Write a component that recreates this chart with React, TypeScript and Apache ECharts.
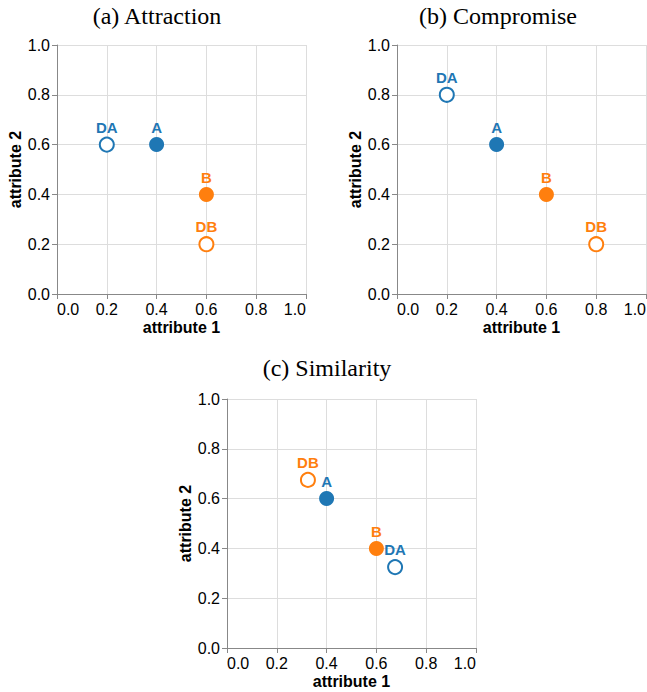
import React, { useEffect, useRef } from "react";
import * as echarts from "echarts";

// ---- data ----
const panelTitles = ["(a) Attraction", "(b) Compromise", "(c) Similarity"];
const pointNames = ["A", "B", "DA", "DB"];
const pointFilled = [true, true, false, false];
const pointGroup = ["a", "b", "a", "b"]; // a -> blue, b -> orange

const attractionX = [0.4, 0.6, 0.2, 0.6];
const attractionY = [0.6, 0.4, 0.6, 0.2];
const compromiseX = [0.4, 0.6, 0.2, 0.8];
const compromiseY = [0.6, 0.4, 0.8, 0.2];
const similarityX = [0.4, 0.6, 0.675, 0.325];
const similarityY = [0.6, 0.4, 0.325, 0.675];

const axisTicks = [0, 0.2, 0.4, 0.6, 0.8, 1.0];
const xAxisTitle = "attribute 1";
const yAxisTitle = "attribute 2";

const panelsX = [attractionX, compromiseX, similarityX];
const panelsY = [attractionY, compromiseY, similarityY];

// ---- layout / style ----
const BLUE = "#1f77b4";
const ORANGE = "#ff7f0e";
const SANS = "'Liberation Sans', Helvetica, Arial, sans-serif";
const SERIF = "'Liberation Serif', 'Times New Roman', serif";

const grids = [
  { left: 57, top: 45, width: 249, height: 249 },
  { left: 397, top: 45, width: 249, height: 249 },
  { left: 227, top: 399, width: 249, height: 249 },
];
const titlePos = [
  { x: 157, y: 4 },
  { x: 498, y: 4 },
  { x: 327, y: 356 },
];

export default function App() {
  const ref = useRef<HTMLDivElement>(null);

  useEffect(() => {
    if (!ref.current) return;
    const chart = echarts.init(ref.current, null, { renderer: "svg" });

    const axisCommon = {
      min: axisTicks[0],
      max: axisTicks[axisTicks.length - 1],
      interval: 0.2,
      axisLine: { show: true, lineStyle: { color: "#888", width: 1 } },
      axisTick: { show: true, length: 5, lineStyle: { color: "#888" } },
      splitLine: { show: true, lineStyle: { color: "#ddd", width: 1 } },
      nameLocation: "middle" as const,
      nameTextStyle: {
        fontFamily: SANS,
        fontSize: 16,
        fontWeight: "bold" as const,
        color: "#000",
      },
    };

    const labelCommon = {
      fontFamily: SANS,
      fontSize: 16,
      color: "#000",
      formatter: (v: number) => v.toFixed(1),
    };

    const xAxis = grids.map((_, i) => ({
      ...axisCommon,
      type: "value" as const,
      gridIndex: i,
      name: xAxisTitle,
      nameGap: 25,
      axisLabel: {
        ...labelCommon,
        margin: 7,
        alignMinLabel: "left",
        alignMaxLabel: "right",
      },
    }));
    const yAxis = grids.map((_, i) => ({
      ...axisCommon,
      type: "value" as const,
      gridIndex: i,
      name: yAxisTitle,
      nameGap: 32,
      axisLabel: { ...labelCommon, margin: 7 },
    }));

    const series: any[] = [];
    panelsX.forEach((xs, p) => {
      const ys = panelsY[p];
      [true, false].forEach((filled) => {
        const data = pointNames
          .map((name, k) => ({ name, k }))
          .filter(({ k }) => pointFilled[k] === filled)
          .map(({ name, k }) => {
            const color = pointGroup[k] === "a" ? BLUE : ORANGE;
            return {
              name,
              value: [xs[k], ys[k]],
              itemStyle: filled
                ? { color, borderWidth: 0, opacity: 1 }
                : { color: "#fff", borderColor: color, borderWidth: 2, opacity: 1 },
              label: { color },
            };
          });
        series.push({
          type: "scatter",
          xAxisIndex: p,
          yAxisIndex: p,
          symbol: "circle",
          symbolSize: filled ? 15 : 14,
          itemStyle: { opacity: 1 },
          data,
          label: {
            show: true,
            position: "top",
            distance: 2,
            formatter: "{b}",
            fontFamily: SANS,
            fontSize: 15,
            fontWeight: "bold",
            opacity: 1,
          },
          emphasis: { disabled: true },
        });
      });
    });

    chart.setOption({
      animation: false,
      backgroundColor: "#fff",
      title: panelTitles.map((t, i) => ({
        text: t,
        left: titlePos[i].x,
        top: titlePos[i].y,
        textAlign: "center",
        padding: 0,
        textStyle: {
          fontFamily: SERIF,
          fontSize: 24,
          fontWeight: "normal",
          color: "#000",
        },
      })),
      grid: grids.map((g) => ({ ...g, containLabel: false, outerBoundsMode: "none" })),
      xAxis,
      yAxis,
      series,
    });

    return () => chart.dispose();
  }, []);

  return (
    <div
      ref={ref}
      style={{ position: "absolute", left: 0, top: 0, width: 647, height: 692 }}
    />
  );
}
